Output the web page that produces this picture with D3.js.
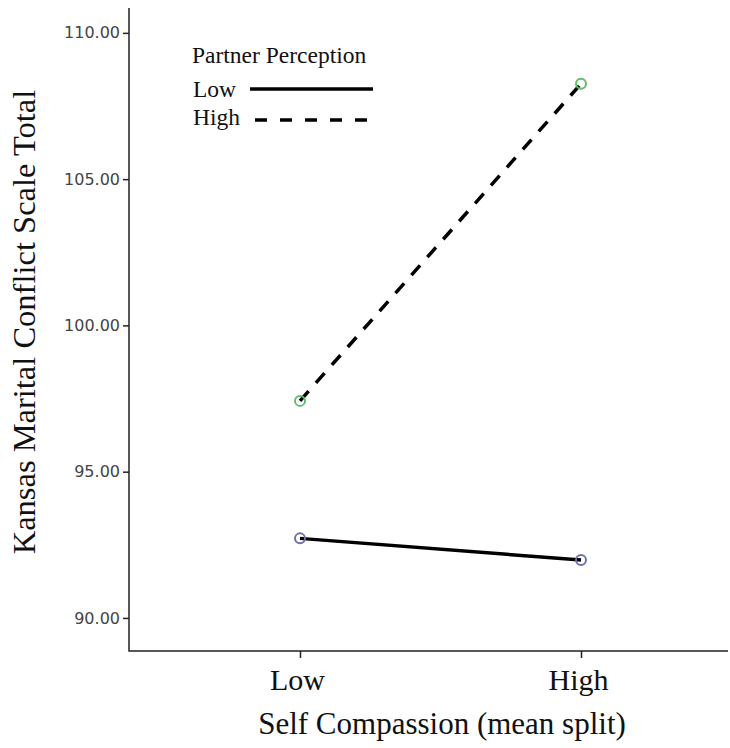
<!DOCTYPE html>
<html>
<head>
<meta charset="utf-8">
<script src="https://cdn.jsdelivr.net/npm/d3@7"></script>
<style>
  body { margin: 0; background: #fff; }
  svg { display: block; }
</style>
</head>
<body>
<svg id="chart" width="730" height="748"></svg>
<script>
// data
const categories = ["Low", "High"];           // Self Compassion (mean split)
const seriesNames = ["Low", "High"];          // Partner Perception
const lowPartner = [92.72, 91.98];
const highPartner = [97.42, 108.26];
const yTicks = [90, 95, 100, 105, 110];

const series = [
  { name: seriesNames[0], values: lowPartner, dash: null, ring: "#6d72ab" },
  { name: seriesNames[1], values: highPartner, dash: "13,11", ring: "#62bd6a" }
];

const svg = d3.select("#chart");
const plotLeft = 129, plotBottom = 651, plotTop = 8, plotRight = 728;

const y = d3.scaleLinear().domain([88.87, 110.85]).range([plotBottom, plotTop]);
const x = d3.scalePoint().domain(categories).range([300, 581]);

const serif = "'Liberation Serif', 'Times New Roman', serif";

// y axis
const yAxis = svg.append("g")
    .attr("transform", `translate(${plotLeft},0)`)
    .call(d3.axisLeft(y).tickValues(yTicks).tickFormat(d3.format(".2f")).tickSize(6).tickPadding(3));
yAxis.select(".domain").remove();
yAxis.selectAll(".tick line").attr("stroke", "#222").attr("stroke-width", 1.5);
yAxis.selectAll(".tick text")
    .attr("font-family", "'DejaVu Sans', sans-serif")
    .attr("font-size", 16)
    .attr("fill", "#444");

// x axis ticks
const xAxis = svg.append("g")
    .attr("transform", `translate(0,${plotBottom})`)
    .call(d3.axisBottom(x).tickSize(7).tickPadding(11));
xAxis.select(".domain").remove();
xAxis.selectAll(".tick line").attr("stroke", "#222").attr("stroke-width", 1.5);
xAxis.selectAll(".tick text")
    .attr("font-family", serif)
    .attr("font-size", 30)
    .attr("fill", "#111")
    .attr("dx", -3);

// axis lines
svg.append("path")
    .attr("d", `M${plotLeft},${plotTop}V${plotBottom}H${plotRight}`)
    .attr("fill", "none")
    .attr("stroke", "#222")
    .attr("stroke-width", 1.5);

// lines + markers
const line = d3.line()
    .x((d, i) => x(categories[i]))
    .y(d => y(d));

series.forEach(s => {
  svg.append("path")
      .datum(s.values)
      .attr("d", line)
      .attr("fill", "none")
      .attr("stroke", "#000")
      .attr("stroke-width", 3.5)
      .attr("stroke-dasharray", s.dash);

  svg.selectAll(null)
      .data(s.values)
      .enter().append("circle")
      .attr("cx", (d, i) => x(categories[i]))
      .attr("cy", d => y(d))
      .attr("r", 5)
      .attr("fill", "none")
      .attr("stroke", s.ring)
      .attr("stroke-width", 2);
});

// axis titles
svg.append("text")
    .attr("transform", "translate(35,322) rotate(-90)")
    .attr("text-anchor", "middle")
    .attr("font-family", serif)
    .attr("font-size", 32.5)
    .attr("fill", "#111")
    .text("Kansas Marital Conflict Scale Total");

svg.append("text")
    .attr("x", 442)
    .attr("y", 734)
    .attr("text-anchor", "middle")
    .attr("font-family", serif)
    .attr("font-size", 31)
    .attr("fill", "#111")
    .text("Self Compassion (mean split)");

// legend
const legend = svg.append("g");
legend.append("text")
    .attr("x", 192).attr("y", 63)
    .attr("font-family", serif)
    .attr("font-size", 23.5)
    .attr("fill", "#111")
    .text("Partner Perception");

const legendY = [97, 125];
const lineY = [89, 120];
series.forEach((s, i) => {
  legend.append("text")
      .attr("x", 193).attr("y", legendY[i])
      .attr("font-family", serif)
      .attr("font-size", 23.5)
      .attr("fill", "#111")
      .text(s.name);
  legend.append("line")
      .attr("x1", s.dash ? 255 : 250).attr("x2", 373)
      .attr("y1", lineY[i]).attr("y2", lineY[i])
      .attr("stroke", "#000")
      .attr("stroke-width", 3.5)
      .attr("stroke-dasharray", s.dash ? "12,13" : null);
});
</script>
</body>
</html>
